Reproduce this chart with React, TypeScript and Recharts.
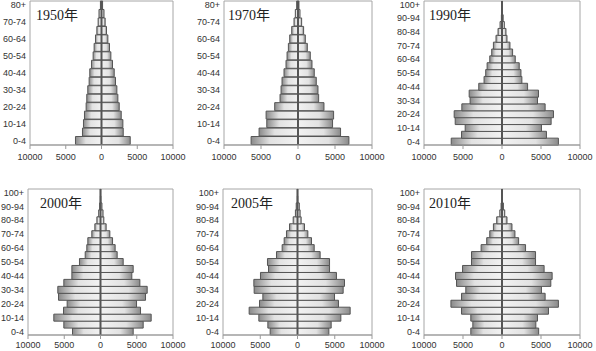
import React from "react";
import { Bar, BarChart, ReferenceArea, ReferenceLine, XAxis, YAxis } from "recharts";

// 年齢階級（下から上へ）
const AGES_17 = [
  "0-4", "5-9", "10-14", "15-19", "20-24", "25-29", "30-34", "35-39", "40-44",
  "45-49", "50-54", "55-59", "60-64", "65-69", "70-74", "75-79", "80+"
];
const AGES_21 = [
  "0-4", "5-9", "10-14", "15-19", "20-24", "25-29", "30-34", "35-39", "40-44",
  "45-49", "50-54", "55-59", "60-64", "65-69", "70-74", "75-79", "80-84",
  "85-89", "90-94", "95-99", "100+"
];

const X_TICKS = [-10000, -5000, 0, 5000, 10000];

const male1950 = [3640, 2660, 2520, 2380, 2150, 2060, 1920, 1730, 1640, 1400, 1170, 1030, 840, 650, 470, 350, 150];
const female1950 = [4020, 3040, 2990, 2760, 2480, 2290, 2150, 1960, 1780, 1540, 1310, 1120, 890, 700, 510, 350, 150];

const male1970 = [6340, 5260, 4220, 4310, 3150, 2430, 2290, 2160, 1890, 1620, 1480, 1300, 1120, 850, 540, 360, 180];
const female1970 = [6880, 5750, 4670, 4810, 3510, 2790, 2700, 2470, 2200, 1890, 1660, 1260, 990, 760, 490, 270, 130];

const male1990 = [6510, 5190, 4720, 6000, 6130, 5150, 4090, 4210, 2980, 2300, 2090, 1910, 1570, 1320, 1100, 770, 510, 250, 80, 30, 10];
const female1990 = [7230, 5700, 5060, 6300, 6600, 5530, 4550, 4680, 3280, 2550, 2430, 2210, 1700, 1360, 1020, 640, 510, 300, 150, 50, 20];

const male2000 = [3860, 5060, 6440, 5100, 4600, 5790, 5890, 5060, 3950, 3950, 2900, 2110, 1890, 1750, 1200, 780, 500, 250, 120, 30, 10];
const female2000 = [4510, 5890, 6990, 5520, 4970, 6210, 6440, 5430, 4320, 4510, 3130, 2300, 2020, 1660, 1290, 780, 460, 350, 200, 60, 20];

const male2005 = [3670, 3980, 5190, 6490, 5100, 4650, 5820, 5860, 4970, 3890, 4030, 2820, 2060, 1790, 1480, 1070, 580, 280, 170, 30, 10];
const female2005 = [4210, 4520, 5820, 7070, 5500, 4970, 6130, 6310, 5230, 4300, 4300, 3040, 2240, 1880, 1390, 940, 490, 350, 240, 50, 20];

const male2010 = [4000, 3740, 4000, 5190, 6550, 5190, 4640, 5830, 5960, 5060, 3910, 3910, 2680, 1960, 1570, 1100, 680, 280, 120, 30, 10];
const female2010 = [4700, 4340, 4550, 5960, 7230, 5530, 5060, 6260, 6430, 5400, 4300, 4300, 3020, 2130, 1660, 1280, 640, 350, 180, 60, 20];

const YAXIS_W = 34;
const M_TOP = 4;
const M_RIGHT = 14;
const XAXIS_H = 22;

// 各パネルの描画領域（プロット枠の位置）
const panels = [
  { id: "p1950", title: "1950年", ages: AGES_17, male: male1950, female: female1950, x0: 30, x1: 173, y0: 1, y1: 145, tx: 6, tm: 5 },
  { id: "p1970", title: "1970年", ages: AGES_17, male: male1970, female: female1970, x0: 224, x1: 372, y0: 1, y1: 145, tx: 4, tm: 5 },
  { id: "p1990", title: "1990年", ages: AGES_21, male: male1990, female: female1990, x0: 424, x1: 580, y0: 1, y1: 145, tx: 5, tm: 5 },
  { id: "p2000", title: "2000年", ages: AGES_21, male: male2000, female: female2000, x0: 28, x1: 173, y0: 189, y1: 335, tx: 12, tm: 3 },
  { id: "p2005", title: "2005年", ages: AGES_21, male: male2005, female: female2005, x0: 223, x1: 372, y0: 189, y1: 335, tx: 8, tm: 3 },
  { id: "p2010", title: "2010年", ages: AGES_21, male: male2010, female: female2010, x0: 424, x1: 580, y0: 189, y1: 335, tx: 5, tm: 3 }
];

const tickStyle = { fontSize: 9, fill: "#333" };

function Pyramid({ p }: { p: (typeof panels)[number] }) {
  const data = p.ages.map((age, i) => ({ age, male: -p.male[i], female: p.female[i] }));
  const width = p.x1 - p.x0 + YAXIS_W + M_RIGHT;
  const height = p.y1 - p.y0 + M_TOP + XAXIS_H;
  return (
    <div style={{ position: "absolute", left: p.x0 - YAXIS_W, top: p.y0 - M_TOP }}>
      <BarChart
        width={width}
        height={height}
        data={data}
        layout="vertical"
        stackOffset="sign"
        barCategoryGap={0}
        margin={{ top: M_TOP, right: M_RIGHT, bottom: 0, left: 0 }}
      >
        <defs>
          <linearGradient id={`${p.id}-m`} x1="0" y1="0" x2="1" y2="0">
            <stop offset="0%" stopColor="#8a8a8a" />
            <stop offset="40%" stopColor="#e2e2e2" />
            <stop offset="100%" stopColor="#f2f2f2" />
          </linearGradient>
          <linearGradient id={`${p.id}-f`} x1="0" y1="0" x2="1" y2="0">
            <stop offset="0%" stopColor="#f2f2f2" />
            <stop offset="60%" stopColor="#e2e2e2" />
            <stop offset="100%" stopColor="#8a8a8a" />
          </linearGradient>
        </defs>
        <XAxis
          type="number"
          domain={[-10000, 10000]}
          ticks={X_TICKS}
          tickFormatter={(v: number) => String(Math.abs(v))}
          height={XAXIS_H}
          tick={tickStyle}
          tickSize={4}
          tickMargin={p.tm}
          axisLine={{ stroke: "#999" }}
          tickLine={{ stroke: "#999" }}
          allowDataOverflow
        />
        <YAxis
          type="category"
          dataKey="age"
          reversed
          width={YAXIS_W}
          interval={1}
          tick={tickStyle}
          tickSize={0}
          tickMargin={4}
          axisLine={false}
          tickLine={false}
        />
        <ReferenceArea x1={-10000} x2={10000} fill="none" stroke="#a6a6a6" />
        <Bar
          dataKey="male"
          stackId="a"
          fill={`url(#${p.id}-m)`}
          stroke="#555"
          strokeWidth={1}
          isAnimationActive={false}
        />
        <Bar
          dataKey="female"
          stackId="a"
          fill={`url(#${p.id}-f)`}
          stroke="#555"
          strokeWidth={1}
          isAnimationActive={false}
        />
        <ReferenceLine x={0} stroke="#555" strokeWidth={2} />
      </BarChart>
      <div
        style={{
          position: "absolute",
          left: YAXIS_W + p.tx,
          top: M_TOP + 8,
          fontFamily: "'Liberation Serif', 'Noto Sans CJK JP', serif",
          fontSize: 14,
          lineHeight: "14px",
          color: "#222",
          whiteSpace: "nowrap"
        }}
      >
        {p.title}
      </div>
    </div>
  );
}

export default function App() {
  return (
    <div
      style={{
        position: "absolute",
        left: 0,
        top: 0,
        width: 596,
        height: 351,
        background: "#fff",
        fontFamily: "'Liberation Sans', Arial, sans-serif",
        overflow: "hidden"
      }}
    >
      {panels.map((p) => (
        <Pyramid key={p.id} p={p} />
      ))}
    </div>
  );
}
